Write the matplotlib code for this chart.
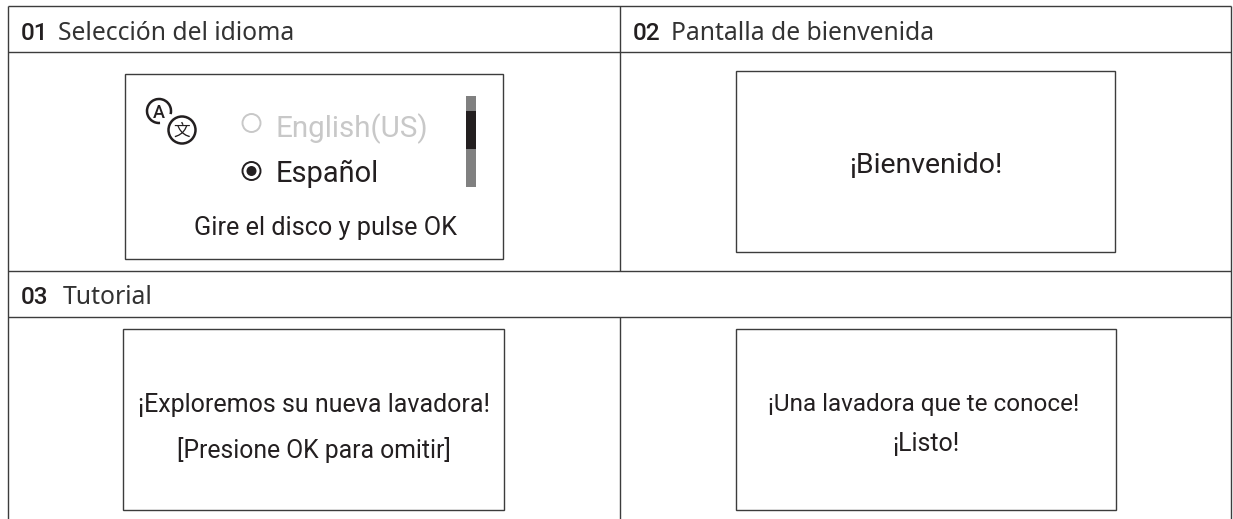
import matplotlib
matplotlib.use('Agg')
import matplotlib.pyplot as plt
from matplotlib.patches import Rectangle, Circle, Arc

LINE = '#3c3c3c'
INK = '#231f20'
BODY = ['Roboto', 'DejaVu Sans']
HEAD = ['Noto Sans', 'DejaVu Sans']

# table outline, pixel positions of the manual page
grid_h = [(8, 1231, 6), (8, 1231, 52), (8, 1231, 271), (8, 1231, 317)]
grid_v = [(8, 6, 519), (620, 6, 271), (620, 317, 519), (1231, 6, 519)]

# screen boxes: left, top, right, bottom
screens = [(125, 74, 503, 259), (736, 71, 1115, 252),
           (123, 329, 504, 510), (736, 329, 1116, 510)]

# header rows: number, title, x of number, x of title, baseline
headers = [('01', 'Selección del idioma', 21, 58, 40),
           ('02', 'Pantalla de bienvenida', 633, 671, 40),
           ('03', 'Tutorial', 21, 63, 304)]

# screen texts: text, left x, baseline, size, colour
screen_text = [('English(US)', 276, 137, 21.3, '#c8c8c8'),
               ('Español', 276, 182, 20.9, INK),
               ('Gire el disco y pulse OK', 194, 235, 18.2, INK),
               ('¡Bienvenido!', 849, 173, 20.5, INK),
               ('¡Exploremos su nueva lavadora!', 138, 412, 18, INK),
               ('[Presione OK para omitir]', 177, 458, 17.8, INK),
               ('¡Una lavadora que te conoce!', 768, 411, 17.5, INK),
               ('¡Listo!', 892, 451, 18, INK)]

fig = plt.figure(figsize=(12.33, 5.19), dpi=100)
ax = fig.add_axes([0, 0, 1, 1])
ax.set_xlim(0, 1233)
ax.set_ylim(519, 0)
ax.axis('off')

for x0, x1, y in grid_h:
    ax.plot([x0, x1], [y, y], color=LINE, lw=1.0, solid_capstyle='butt')
for x, y0, y1 in grid_v:
    ax.plot([x, x], [y0, y1], color=LINE, lw=1.0, solid_capstyle='butt')

for l, t, r, b in screens:
    ax.add_patch(Rectangle((l, t), r - l, b - t, fc='white', ec=LINE, lw=1.0))

for num, title, xn, xt, y in headers:
    ax.text(xn, y, num, family=BODY, fontsize=17.5, fontweight='medium', color=INK,
            va='baseline', ha='left')
    ax.text(xt, y, title, family=HEAD, fontsize=17.8, color='#333333',
            va='baseline', ha='left')

for s, x, y, size, col in screen_text:
    ax.text(x, y, s, family=BODY, fontsize=size, color=col, va='baseline', ha='left')

# radio buttons
ax.add_patch(Circle((251.5, 123), 9, fc='none', ec='#c8c8c8', lw=1.4))
ax.add_patch(Circle((251.5, 171), 9, fc='none', ec=INK, lw=1.4))
ax.add_patch(Circle((251.5, 171), 5, fc=INK, ec='none'))

# scroll bar
ax.add_patch(Rectangle((466, 96), 10, 91, fc='#808080', ec='none'))
ax.add_patch(Rectangle((466, 111), 10, 38, fc=INK, ec='none'))

# language icon
ax.add_patch(Arc((159, 111), 24, 24, theta1=85, theta2=375, ec=INK, lw=1.8))
ax.add_patch(Circle((182, 130), 13.5, fc='none', ec=INK, lw=1.8))
ax.text(159, 117.5, 'A', family=BODY, fontsize=13, fontweight='medium', color=INK,
        ha='center', va='baseline')
ax.text(182, 135.5, '文', family=['Noto Sans CJK SC', 'DejaVu Sans'], fontsize=12, color=INK,
        ha='center', va='baseline')

fig.savefig('out.png', dpi=100, facecolor='white')
